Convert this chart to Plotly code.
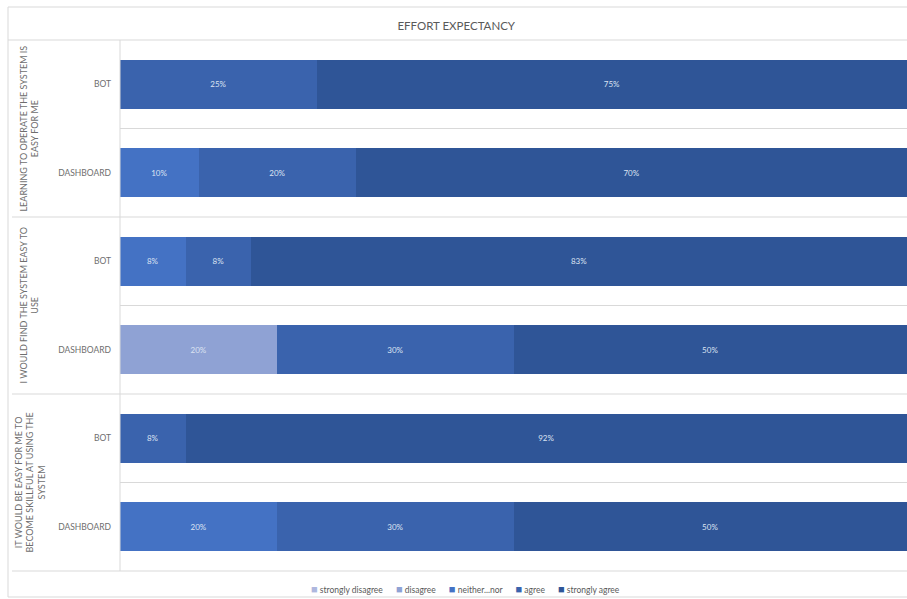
import plotly.graph_objects as go

# Survey responses, percentages per row (top to bottom)
rows = ["BOT", "DASHBOARD", "BOT", "DASHBOARD", "BOT", "DASHBOARD"]
questions = [
    "LEARNING TO OPERATE THE SYSTEM IS<br>EASY FOR ME",
    "I WOULD FIND THE SYSTEM EASY TO<br>USE",
    "IT WOULD BE EASY FOR ME TO<br>BECOME SKILLFUL AT USING THE<br>SYSTEM",
]
series_names = ["strongly disagree", "disagree", "neither...nor", "agree", "strongly agree"]
strongly_disagree = [0, 0, 0, 0, 0, 0]
disagree = [0, 0, 0, 20, 0, 0]
neither_nor = [0, 10, 8.33, 0, 0, 20]
agree = [25, 20, 8.33, 30, 8.33, 30]
strongly_agree = [75, 70, 83.33, 50, 91.67, 50]

colors = ["#AEB7DE", "#8FA2D4", "#4472C4", "#3A63AD", "#2F5597"]
values = [strongly_disagree, disagree, neither_nor, agree, strongly_agree]

FONT = "Lato, 'Open Sans', sans-serif"
GRAY = "#595959"
LIGHT_GRAY = "#6E6E6E"
LINE = "#D9D9D9"

ypos = list(range(len(rows)))

fig = go.Figure()
for name, vals, col in zip(series_names, values, colors):
    fig.add_trace(go.Bar(
        name=name,
        y=ypos,
        x=vals,
        orientation="h",
        width=0.55,
        marker=dict(color=col, line=dict(width=0)),
        text=[f"{v:.0f}%" if v > 0 else "" for v in vals],
        textposition="inside",
        insidetextanchor="middle",
        textangle=0,
        textfont=dict(family=FONT, size=8, color="#DCE3F2"),
        hoverinfo="x+name",
        showlegend=False,
    ))

# plot area spans x pixels 120..907 and y pixels 40..571
L, R, T, B = 120, 0, 40, 28
W, H = 907, 599
pw = W - L - R
ph = H - T - B


def px_to_paper_x(px):
    return (px - L) / pw


def py_to_paper_y(py):
    return (H - B - py) / ph


shapes = []
# outer frame
shapes.append(dict(type="rect", xref="paper", yref="paper",
                   x0=px_to_paper_x(8), x1=px_to_paper_x(912),
                   y0=py_to_paper_y(597), y1=py_to_paper_y(7),
                   line=dict(color=LINE, width=1), layer="below"))
# header line
shapes.append(dict(type="line", xref="paper", yref="paper",
                   x0=px_to_paper_x(8), x1=1, y0=1, y1=1,
                   line=dict(color=LINE, width=1)))
# bottom of plot
shapes.append(dict(type="line", xref="paper", yref="paper",
                   x0=px_to_paper_x(12), x1=1, y0=0, y1=0,
                   line=dict(color=LINE, width=1)))
# vertical category axis line
shapes.append(dict(type="line", xref="paper", yref="paper",
                   x0=0, x1=0, y0=0, y1=1,
                   line=dict(color=LINE, width=1)))
# question group separators
for yb in [1.5, 3.5]:
    shapes.append(dict(type="line", xref="paper", yref="y",
                       x0=px_to_paper_x(12), x1=1, y0=yb, y1=yb,
                       line=dict(color=LINE, width=1), layer="below"))
# separators between rows within a group
for yb in [0.5, 2.5, 4.5]:
    shapes.append(dict(type="line", xref="paper", yref="y",
                       x0=0, x1=1, y0=yb, y1=yb,
                       line=dict(color=LINE, width=1), layer="below"))

annotations = []
for i, q in enumerate(questions):
    annotations.append(dict(
        text=q, xref="paper", yref="y",
        x=px_to_paper_x(29), y=2 * i + 0.5,
        textangle=-90, showarrow=False,
        xanchor="center", yanchor="middle", align="center",
        font=dict(family=FONT, size=9, color=LIGHT_GRAY),
    ))

# compact legend: coloured square followed by the series name
sep = "\u00a0" * 6
legend_text = sep.join(
    f"<span style='color:{c};font-size:11px'>■</span>\u00a0{n}"
    for n, c in zip(series_names, colors)
)
annotations.append(dict(
    text=legend_text, xref="paper", yref="paper",
    x=px_to_paper_x(465), y=py_to_paper_y(588),
    xanchor="center", yanchor="middle", showarrow=False,
    font=dict(family=FONT, size=8.5, color=GRAY),
))

fig.update_layout(
    width=W, height=H,
    margin=dict(l=L, r=R, t=T, b=B),
    paper_bgcolor="white", plot_bgcolor="white",
    barmode="stack",
    title=dict(text="EFFORT EXPECTANCY", xref="container", x=0.503, xanchor="center",
               yref="container", y=1 - 26 / H, yanchor="middle",
               font=dict(family=FONT, size=11.5, color=GRAY)),
    xaxis=dict(range=[0, 100], visible=False, fixedrange=True),
    yaxis=dict(tickvals=ypos, ticktext=rows, range=[5.5, -0.5],
               showgrid=False, zeroline=False, showline=False,
               ticks="", ticklabelstandoff=8,
               tickfont=dict(family=FONT, size=8.5, color=LIGHT_GRAY)),
    shapes=shapes,
    annotations=annotations,
    showlegend=False,
)

fig.write_html("out.html")
